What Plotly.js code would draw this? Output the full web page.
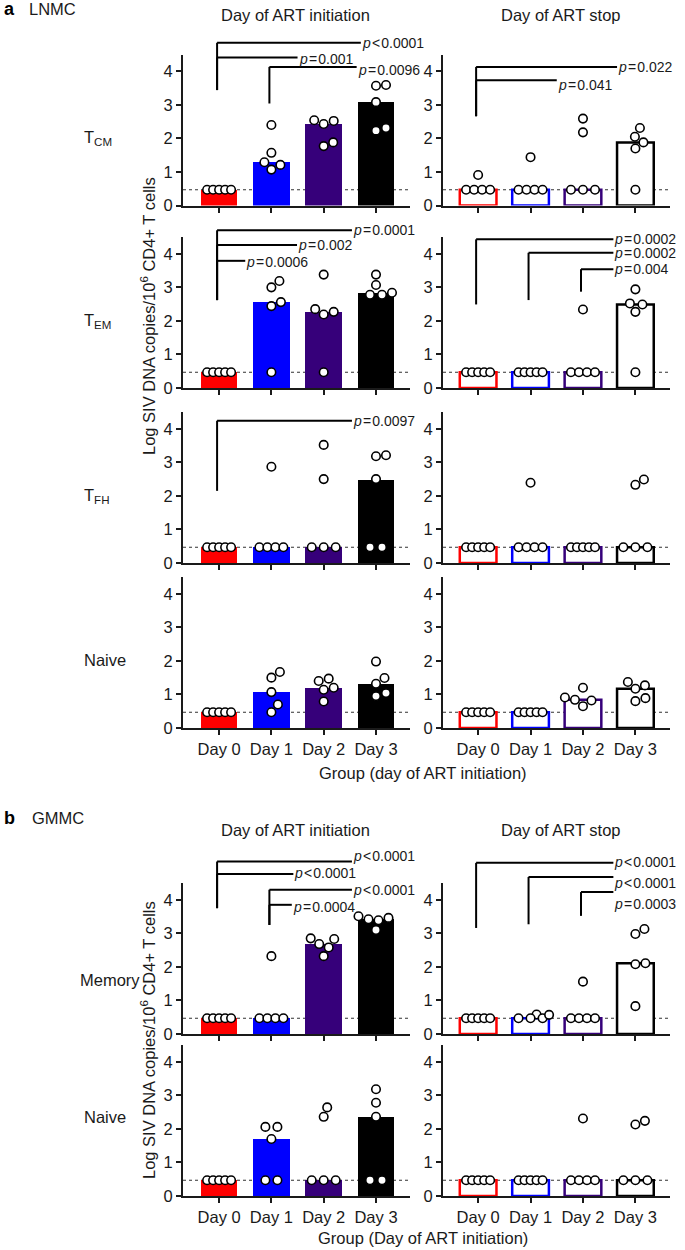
<!DOCTYPE html>
<html><head><meta charset="utf-8">
<script src="https://cdn.plot.ly/plotly-3.0.1.min.js"></script>
<style>body{margin:0;padding:0;background:#fff}#chart{width:685px;height:1250px}</style>
</head><body><div id="chart"></div>
<script>
// ---------------- DATA ----------------
const groups = ['Day 0','Day 1','Day 2','Day 3'];
const LOD = 0.47;
const barColors = ['#ff0000','#0000ff','#36007a','#000000'];

// LNMC - T_CM
const lnmcTcmInit = [[0.47,0.47,0.47,0.47,0.47],[2.40,1.57,1.29,1.07,1.21],[2.52,2.43,2.54,1.77,1.88],[3.57,3.59,3.08,2.23,2.31]];
const lnmcTcmInitBar = [0.47,1.29,2.43,3.08];
const lnmcTcmStop = [[0.47,0.47,0.47,0.47,0.91],[0.47,0.47,0.47,0.47,1.44],[0.47,0.47,0.47,2.59,2.18],[2.05,1.88,2.31,1.70,0.47]];
const lnmcTcmStopBar = [0.47,0.47,0.47,1.88];
// LNMC - T_EM
const lnmcTemInit = [[0.47,0.47,0.47,0.47,0.47],[3.00,3.19,2.56,2.44,0.47],[3.38,2.27,2.19,2.35,0.47],[3.38,2.84,2.78,2.78,3.07]];
const lnmcTemInitBar = [0.47,2.56,2.27,2.84];
const lnmcTemStop = [[0.47,0.47,0.47,0.47,0.47],[0.47,0.47,0.47,0.47,0.47],[0.47,0.47,0.47,0.47,2.34],[2.94,2.49,2.52,2.27,0.47]];
const lnmcTemStopBar = [0.47,0.47,0.47,2.49];
// LNMC - T_FH
const lnmcTfhInit = [[0.47,0.47,0.47,0.47,0.47],[2.87,0.47,0.47,0.47,0.47],[3.52,2.50,0.47,0.47,0.47],[3.18,3.21,2.50,0.47,0.47]];
const lnmcTfhInitBar = [0.47,0.47,0.47,2.47];
const lnmcTfhStop = [[0.47,0.47,0.47,0.47,0.47],[2.39,0.47,0.47,0.47,0.47],[0.47,0.47,0.47,0.47,0.47],[2.49,2.33,0.47,0.47,0.47]];
const lnmcTfhStopBar = [0.47,0.47,0.47,0.47];
// LNMC - Naive
const lnmcNaiveInit = [[0.47,0.47,0.47,0.47,0.47],[1.50,1.67,1.07,0.70,0.47],[1.47,1.20,1.14,1.40,0.79],[1.98,1.49,1.32,0.95,1.04]];
const lnmcNaiveInitBar = [0.47,1.07,1.20,1.32];
const lnmcNaiveStop = [[0.47,0.47,0.47,0.47,0.47],[0.47,0.47,0.47,0.47,0.47],[0.84,1.20,0.65,0.82,0.91],[1.27,1.17,1.37,0.80,0.89]];
const lnmcNaiveStopBar = [0.47,0.47,0.84,1.17];
// GMMC - Memory
const gmmcMemInit = [[0.47,0.47,0.47,0.47,0.47],[2.32,0.47,0.47,0.47,0.47],[2.68,2.85,2.83,2.58,2.32],[3.46,3.51,3.42,3.39,3.10]];
const gmmcMemInitBar = [0.47,0.47,2.68,3.42];
const gmmcMemStop = [[0.47,0.47,0.47,0.47,0.47],[0.58,0.47,0.47,0.47,0.57],[1.56,0.47,0.47,0.47,0.47],[2.98,3.13,2.11,2.08,0.83]];
const gmmcMemStopBar = [0.47,0.47,0.47,2.11];
// GMMC - Naive
const gmmcNaiveInit = [[0.47,0.47,0.47,0.47,0.47],[2.06,2.06,1.70,0.47,0.47],[2.64,2.36,0.47,0.47,0.47],[3.18,2.78,2.36,0.47,0.47]];
const gmmcNaiveInitBar = [0.47,1.70,0.47,2.36];
const gmmcNaiveStop = [[0.47,0.47,0.47,0.47,0.47],[0.47,0.47,0.47,0.47,0.47],[2.31,0.47,0.47,0.47,0.47],[2.24,2.13,0.47,0.47,0.47]];
const gmmcNaiveStopBar = [0.47,0.47,0.47,0.47];

// p-value labels
const pTcmInit = ['p&lt;0.0001','p=0.001','p=0.0096'];
const pTcmStop = ['p=0.022','p=0.041'];
const pTemInit = ['p=0.0001','p=0.002','p=0.0006'];
const pTemStop = ['p=0.0002','p=0.0002','p=0.004'];
const pTfhInit = ['p=0.0097'];
const pMemInit = ['p&lt;0.0001','p&lt;0.0001','p&lt;0.0001','p=0.0004'];
const pMemStop = ['p&lt;0.0001','p&lt;0.0001','p=0.0003'];

// ---------------- LAYOUT GEOMETRY ----------------
const W = 685, H = 1250;
const colPx = [[183,410],[443,670]];
const xRng = [[-0.69,3.65],[-0.67,3.66]];
const rowZero = [205.5,388,563,728,1034,1196];
const rowH = 151, yMax = 4.5;
const FONT = 'Liberation Sans, Arial, Helvetica, sans-serif';
const INK = '#1a1a1a';

function pxX(c, v){ return colPx[c][0] + (v - xRng[c][0])/(xRng[c][1]-xRng[c][0])*(colPx[c][1]-colPx[c][0]); }
function pxY(r, v){ return rowZero[r] - v/yMax*rowH; }
function paperX(px){ return px/W; }
function paperY(py){ return (H-py)/H; }

const kx = (colPx[0][1]-colPx[0][0])/(xRng[0][1]-xRng[0][0]);
const ky = rowH/yMax;

// beeswarm-like placement (pixel space) -> x offsets in data units
function swarm(vals){
  const D = 10;
  const n = vals.length; const off = new Array(n).fill(null);
  const byVal = {};
  vals.forEach((v,i)=>{ (byVal[v] = byVal[v] || []).push(i); });
  const placed = [];
  Object.keys(byVal).forEach(k=>{
    const idx = byVal[k];
    if(idx.length>1){
      const m = idx.length, s = Math.min(12, 24/(m-1));
      idx.forEach((i,j)=>{ off[i] = (j-(m-1)/2)*s; placed.push([off[i], vals[i]*ky]); });
    }
  });
  const singles = vals.map((v,i)=>i).filter(i=>off[i]===null).sort((a,b)=>vals[a]-vals[b]);
  singles.forEach(i=>{
    const y = vals[i]*ky;
    const Dl = Math.abs(vals[i]-LOD) < 0.15 ? 7 : D;
    for(let d=0; d<60 && off[i]===null; d+=0.5){
      for(const sg of [1,-1]){
        const x = sg*d;
        if(placed.every(p=>Math.hypot(p[0]-x,p[1]-y)>=Dl)){ off[i]=x; break; }
      }
    }
    if(off[i]===null) off[i]=0;
    placed.push([off[i], y]);
  });
  return off.map(o=>o/kx);
}

// panels: row, col, data, bar heights, brackets [fromCat, endX, topY, bottomY, label, labelY]
const panels = [
  {r:0,c:0,pts:lnmcTcmInit,bar:lnmcTcmInitBar,br:[[0,2.71,4.85,3.44,pTcmInit[0],4.85],[0,1.50,4.41,3.44,pTcmInit[1],4.38],[1,2.63,4.13,3.04,pTcmInit[2],4.03]]},
  {r:0,c:1,pts:lnmcTcmStop,bar:lnmcTcmStopBar,br:[[0,2.65,4.13,2.66,pTcmStop[0],4.13],[0,1.50,3.73,2.66,pTcmStop[1],3.59]]},
  {r:1,c:0,pts:lnmcTemInit,bar:lnmcTemInitBar,br:[[0,2.54,4.70,2.62,pTemInit[0],4.72],[0,1.49,4.26,2.62,pTemInit[1],4.26],[0,0.50,3.79,2.62,pTemInit[2],3.76]]},
  {r:1,c:1,pts:lnmcTemStop,bar:lnmcTemStopBar,br:[[0,2.58,4.43,2.49,pTemStop[0],4.43],[1,2.58,4.03,2.62,pTemStop[1],4.03],[2,2.58,3.54,2.87,pTemStop[2],3.54]]},
  {r:2,c:0,pts:lnmcTfhInit,bar:lnmcTfhInitBar,br:[[0,2.54,4.24,2.15,pTfhInit[0],4.24]]},
  {r:2,c:1,pts:lnmcTfhStop,bar:lnmcTfhStopBar,br:[]},
  {r:3,c:0,pts:lnmcNaiveInit,bar:lnmcNaiveInitBar,br:[]},
  {r:3,c:1,pts:lnmcNaiveStop,bar:lnmcNaiveStopBar,br:[]},
  {r:4,c:0,pts:gmmcMemInit,bar:gmmcMemInitBar,br:[[0,2.54,5.14,3.75,pMemInit[0],5.31],[0,1.42,4.77,3.75,pMemInit[1],4.79],[1,2.54,4.30,3.25,pMemInit[2],4.30],[1,1.39,3.85,3.25,pMemInit[3],3.78]]},
  {r:4,c:1,pts:gmmcMemStop,bar:gmmcMemStopBar,br:[[0,2.58,5.10,3.16,pMemStop[0],5.14],[1,2.58,4.68,3.27,pMemStop[1],4.51],[2,2.58,4.23,3.52,pMemStop[2],3.88]]},
  {r:5,c:0,pts:gmmcNaiveInit,bar:gmmcNaiveInitBar,br:[]},
  {r:5,c:1,pts:gmmcNaiveStop,bar:gmmcNaiveStopBar,br:[]}
];

const traces = [], shapes = [], annotations = [];
const layout = {
  width: W, height: H, margin:{l:0,r:0,t:0,b:0},
  paper_bgcolor:'#fff', plot_bgcolor:'rgba(0,0,0,0)',
  showlegend:false, bargap:0,
  font:{family:FONT, size:16.5, color:INK}
};

panels.forEach((p,k)=>{
  const id = k+1;
  const xa = id===1 ? 'x' : 'x'+id, ya = id===1 ? 'y' : 'y'+id;
  const xk = id===1 ? 'xaxis' : 'xaxis'+id, yk = id===1 ? 'yaxis' : 'yaxis'+id;
  const bottom = (p.r===3 || p.r===5);
  layout[xk] = {
    domain:[colPx[p.c][0]/W, colPx[p.c][1]/W], range:xRng[p.c], anchor:ya,
    showline:true, linewidth:2, linecolor:INK, ticks:'outside', ticklen:5, tickwidth:2, tickcolor:INK,
    tickvals:[0,1,2,3], ticktext:groups, showticklabels:bottom, showgrid:false, zeroline:false,
    tickfont:{family:FONT,size:16.5,color:INK}, fixedrange:true
  };
  layout[yk] = {
    domain:[paperY(rowZero[p.r]), paperY(rowZero[p.r]-rowH)], range:[0,yMax], anchor:xa,
    showline:true, linewidth:2, linecolor:INK, ticks:'outside', ticklen:5, tickwidth:2, tickcolor:INK,
    tickvals:[0,1,2,3,4], showgrid:false, zeroline:false,
    tickfont:{family:FONT,size:16.5,color:INK}, fixedrange:true
  };
  // LOD dotted line
  shapes.push({type:'line', xref:xa+' domain', yref:ya, x0:0, x1:1, y0:LOD, y1:LOD, layer:'below',
    line:{color:'#333', width:1.1, dash:'dot'}});
  // bars
  const filled = p.c===0;
  traces.push({type:'bar', x:[0,1,2,3], y:p.bar, width:0.7, xaxis:xa, yaxis:ya, hoverinfo:'skip',
    marker: filled ? {color:barColors, line:{width:0}} : {color:'#ffffff', line:{color:barColors, width:2.5}}});
  // points
  const xs = [], ys = [];
  p.pts.forEach((vals,g)=>{
    const off = swarm(vals);
    vals.forEach((v,i)=>{ xs.push(g+off[i]); ys.push(v); });
  });
  traces.push({type:'scatter', mode:'markers', x:xs, y:ys, xaxis:xa, yaxis:ya, hoverinfo:'skip', cliponaxis:false,
    marker:{symbol:'circle', size:8.5, color:'#ffffff', line:{color:'#000', width:1.6}}});
  // brackets
  p.br.forEach(b=>{
    const [from, endX, top, bot, label, ly] = b;
    const x0 = paperX(pxX(p.c, from) - 2), x1 = paperX(pxX(p.c, endX));
    const yT = paperY(pxY(p.r, top)), yB = paperY(pxY(p.r, bot));
    shapes.push({type:'line', xref:'paper', yref:'paper', x0:x0, x1:x0, y0:yB, y1:yT, line:{color:'#000', width:2}});
    shapes.push({type:'line', xref:'paper', yref:'paper', x0:x0, x1:x1, y0:yT, y1:yT, line:{color:'#000', width:2}});
    const txt = label.replace(/^p/, '<i>p</i>').replace('=', '\u200a=\u200a').replace('&lt;', '\u200a&lt;\u200a');
    annotations.push({xref:'paper', yref:'paper', x:x1, y:paperY(pxY(p.r, ly)), xanchor:'left', yanchor:'middle',
      text:txt, showarrow:false, font:{family:FONT, size:14, color:INK}, xshift:-1});
  });
});

function ann(text, x, y, opts){
  annotations.push(Object.assign({xref:'paper', yref:'paper', x:x/W, y:paperY(y), text:text, showarrow:false,
    xanchor:'center', yanchor:'middle', font:{family:FONT, size:16.5, color:INK}}, opts||{}));
}
// panel letters and tissue
ann('<b>a</b>', 2, 9, {xanchor:'left', font:{family:FONT,size:18,color:'#000'}});
ann('LNMC', 27, 9, {xanchor:'left'});
ann('<b>b</b>', 2, 818, {xanchor:'left', font:{family:FONT,size:18,color:'#000'}});
ann('GMMC', 30, 818, {xanchor:'left'});
// column titles
ann('Day of ART initiation', 295, 15);
ann('Day of ART stop', 561, 15);
ann('Day of ART initiation', 295, 830);
ann('Day of ART stop', 561, 830);
// row labels
ann('T<sub>CM</sub>', 82, 138, {xanchor:'left'});
ann('T<sub>EM</sub>', 82, 321, {xanchor:'left'});
ann('T<sub>FH</sub>', 82, 496, {xanchor:'left'});
ann('Naive', 82, 660, {xanchor:'left'});
ann('Memory', 78, 980, {xanchor:'left'});
ann('Naive', 82, 1117, {xanchor:'left'});
// y titles
ann('Log SIV DNA copies/10<sup>6</sup> CD4+ T cells', 148, 316, {textangle:-90});
ann('Log SIV DNA copies/10<sup>6</sup> CD4+ T cells', 148, 1040, {textangle:-90});
// x titles
ann('Group (day of ART initiation)', 423, 773);
ann('Group (Day of ART initiation)', 423, 1238);

layout.shapes = shapes;
layout.annotations = annotations;
Plotly.newPlot('chart', traces, layout, {staticPlot:true, displayModeBar:false});
</script>
</body></html>
